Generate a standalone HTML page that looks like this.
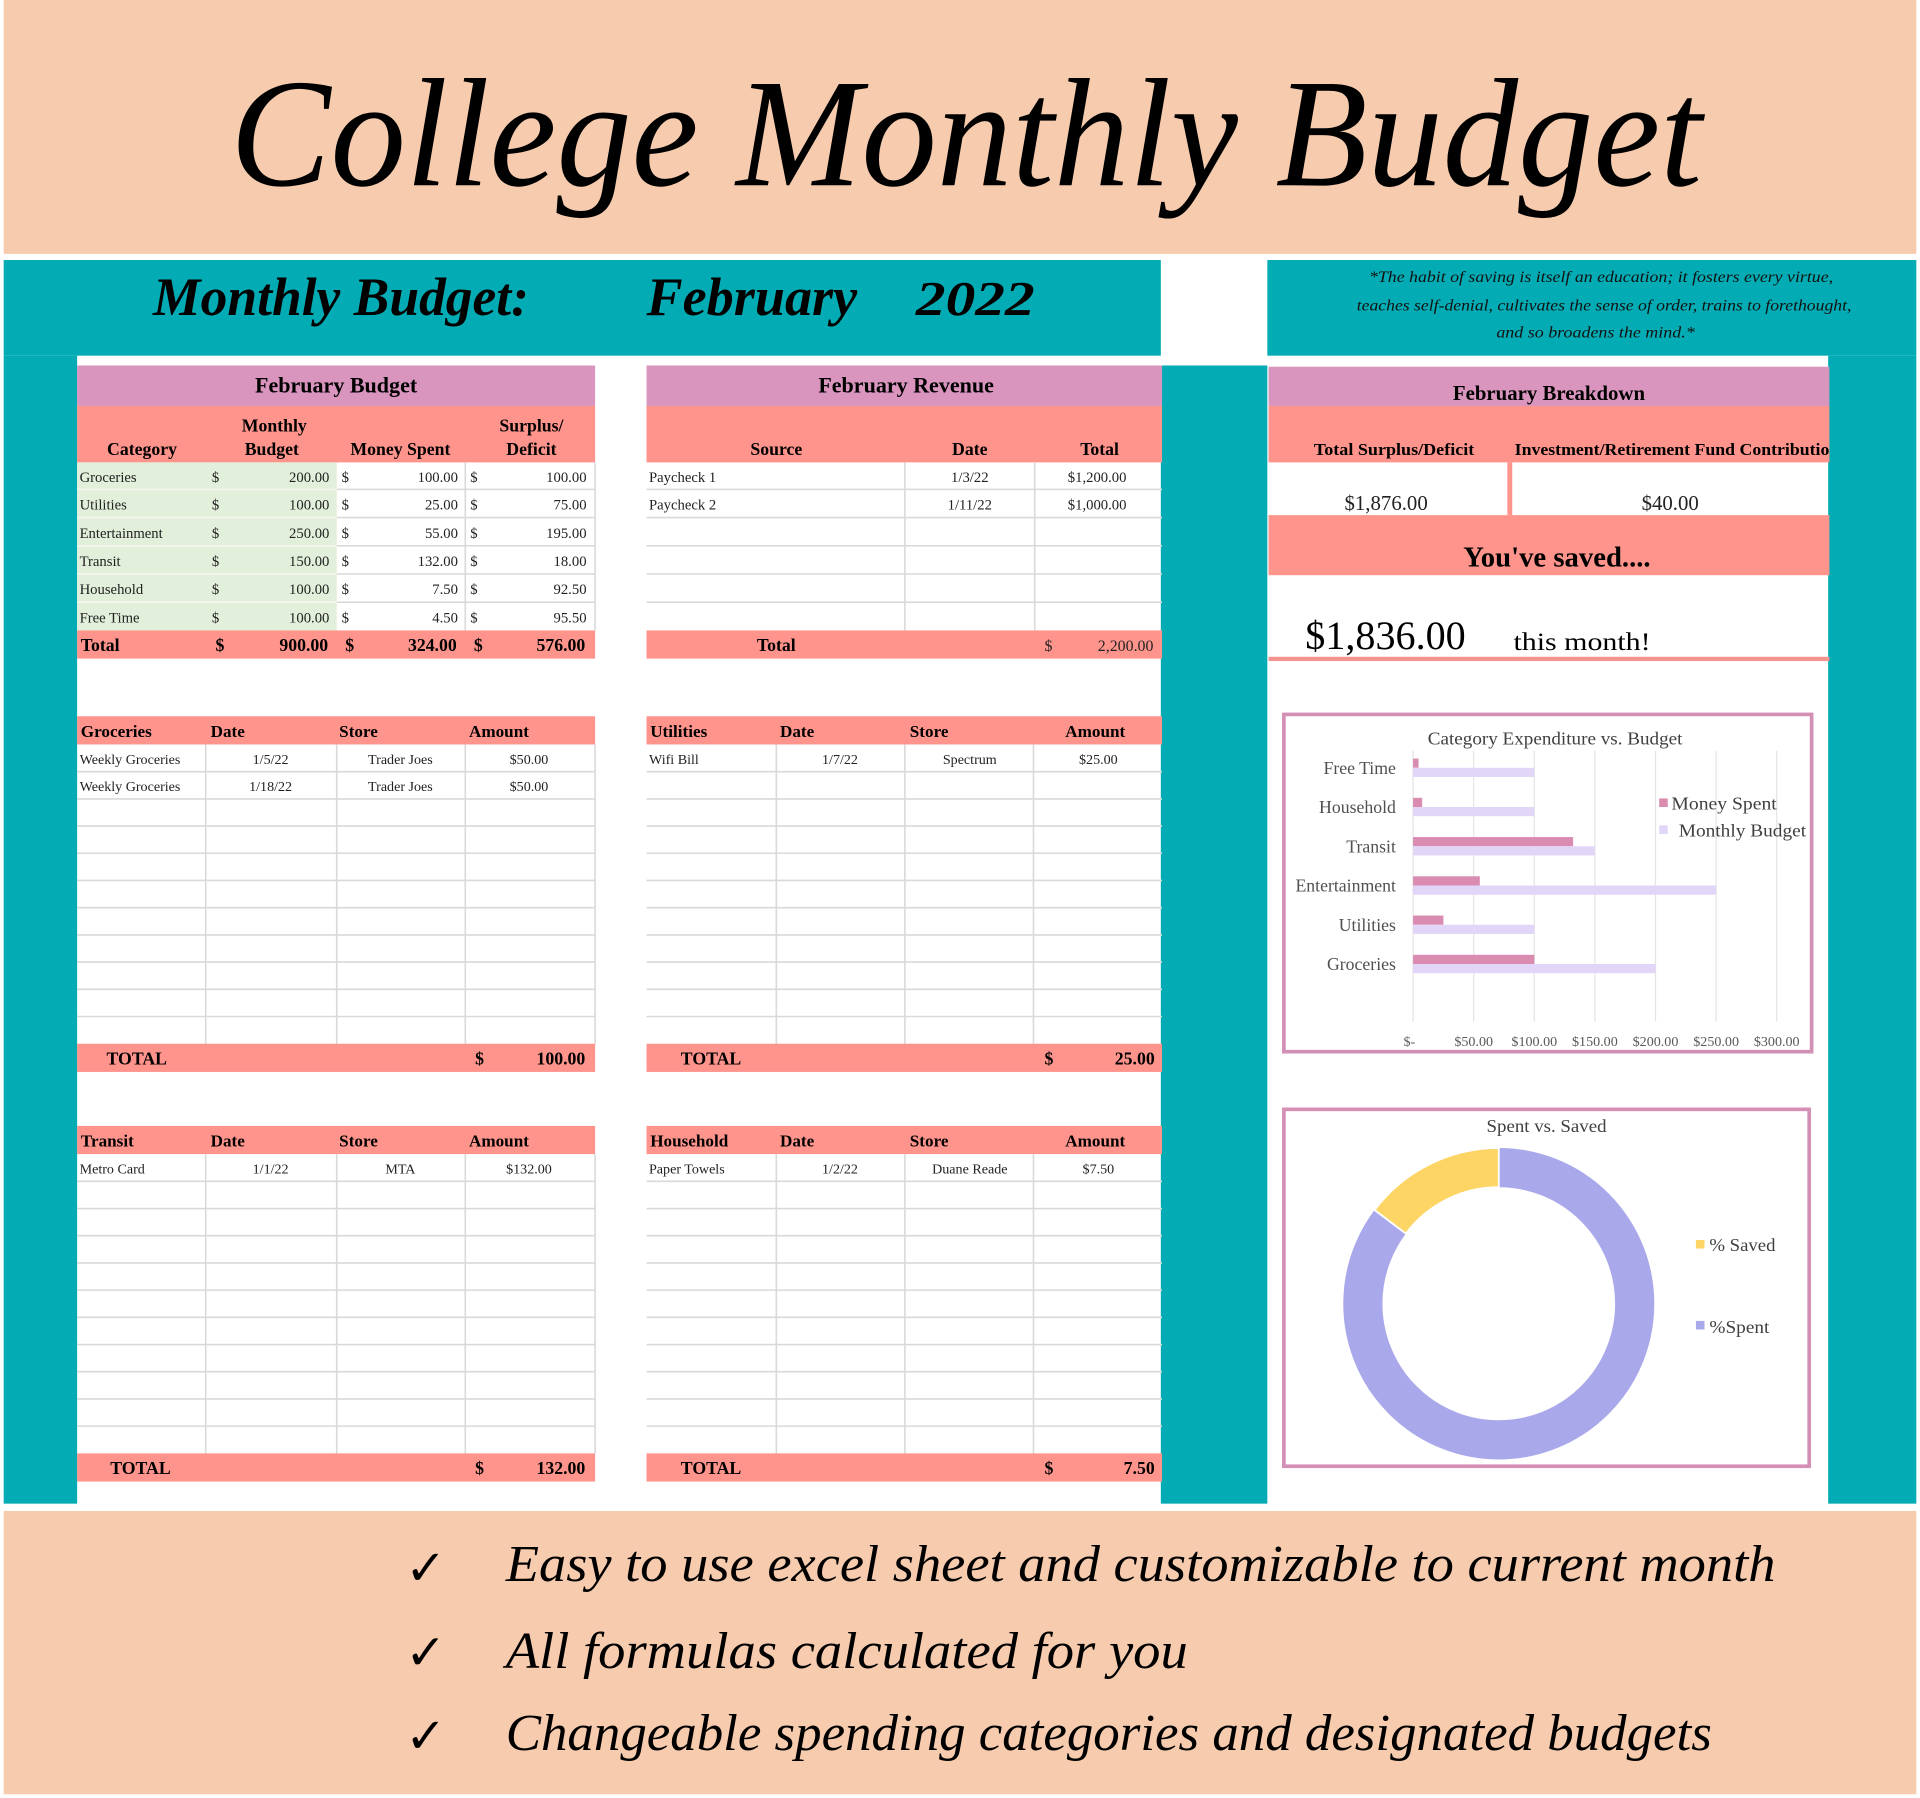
<!DOCTYPE html>
<html><head><meta charset="utf-8">
<style>html,body{margin:0;padding:0;background:#fff}svg{display:block}</style>
</head>
<body>
<svg xmlns="http://www.w3.org/2000/svg" width="1920" height="1798" viewBox="0 0 1568 1466" preserveAspectRatio="none" font-family="'Liberation Serif', 'DejaVu Serif', serif">
<rect width="1568" height="1466" fill="#fff"/>

<!-- top peach band -->
<rect x="3" y="0" width="1562" height="207" fill="#F6CBAE"/>
<text x="188" y="151" font-size="126" font-style="italic" textLength="1202" lengthAdjust="spacingAndGlyphs" fill="#000">College Monthly Budget</text>

<!-- teal structure -->
<rect x="3" y="212" width="945" height="78" fill="#03ACB4"/>
<rect x="1035" y="212" width="530" height="78" fill="#03ACB4"/>
<rect x="3" y="290" width="60" height="936" fill="#03ACB4"/>
<rect x="948" y="298" width="87" height="928" fill="#03ACB4"/>
<rect x="1493" y="290" width="72" height="936" fill="#03ACB4"/>

<text x="125" y="257" font-size="44" font-style="italic" font-weight="bold" textLength="307" lengthAdjust="spacingAndGlyphs">Monthly Budget:</text>
<text x="528" y="257" font-size="44" font-style="italic" font-weight="bold" textLength="172" lengthAdjust="spacingAndGlyphs">February</text>
<text x="748" y="257" font-size="40" font-style="italic" font-weight="bold" textLength="97" lengthAdjust="spacingAndGlyphs">2022</text>

<g font-size="13" font-style="italic" fill="#111">
<text x="1118" y="230" textLength="379" lengthAdjust="spacingAndGlyphs">*The habit of saving is itself an education; it fosters every virtue,</text>
<text x="1108" y="253" textLength="404" lengthAdjust="spacingAndGlyphs">teaches self-denial, cultivates the sense of order, trains to forethought,</text>
<text x="1222" y="275" textLength="162" lengthAdjust="spacingAndGlyphs">and so broadens the mind.*</text>
</g>

<!-- ========== February Budget ========== -->
<rect x="63" y="298" width="423" height="33" fill="#D995BE"/>
<rect x="63" y="331" width="423" height="46" fill="#FF948C"/>
<rect x="63" y="377" width="212" height="137" fill="#E2EFDA"/>
<g stroke="#D9D9D9" stroke-width="1.3">
<line x1="275" y1="399" x2="486" y2="399"/><line x1="275" y1="422" x2="486" y2="422"/>
<line x1="275" y1="445" x2="486" y2="445"/><line x1="275" y1="468" x2="486" y2="468"/>
<line x1="275" y1="491" x2="486" y2="491"/>
<line x1="380" y1="377" x2="380" y2="514"/><line x1="486" y1="377" x2="486" y2="514"/>
</g>
<g stroke="#F4F8F1" stroke-width="1.3">
<line x1="63" y1="399" x2="275" y2="399"/><line x1="63" y1="422" x2="275" y2="422"/>
<line x1="63" y1="445" x2="275" y2="445"/><line x1="63" y1="468" x2="275" y2="468"/>
<line x1="63" y1="491" x2="275" y2="491"/>
</g>
<rect x="63" y="514" width="423" height="23" fill="#FF948C"/>
<text x="274.5" y="320" font-size="18" font-weight="bold" text-anchor="middle">February Budget</text>
<g font-size="14.5" font-weight="bold" text-anchor="middle">
<text x="116" y="371">Category</text>
<text x="224" y="352">Monthly</text>
<text x="222" y="371">Budget</text>
<text x="327" y="371">Money Spent</text>
<text x="434" y="352">Surplus/</text>
<text x="434" y="371">Deficit</text>
</g>
<g font-size="12" fill="#222">
<text x="65" y="393">Groceries</text>
<text x="65" y="415.5">Utilities</text>
<text x="65" y="438.5">Entertainment</text>
<text x="65" y="461.5">Transit</text>
<text x="65" y="484.5">Household</text>
<text x="65" y="507.5">Free Time</text>
<text x="173" y="393">$</text><text x="173" y="415.5">$</text><text x="173" y="438.5">$</text><text x="173" y="461.5">$</text><text x="173" y="484.5">$</text><text x="173" y="507.5">$</text>
<text x="279" y="393">$</text><text x="279" y="415.5">$</text><text x="279" y="438.5">$</text><text x="279" y="461.5">$</text><text x="279" y="484.5">$</text><text x="279" y="507.5">$</text>
<text x="384" y="393">$</text><text x="384" y="415.5">$</text><text x="384" y="438.5">$</text><text x="384" y="461.5">$</text><text x="384" y="484.5">$</text><text x="384" y="507.5">$</text>
</g>
<g font-size="12" fill="#222" text-anchor="end">
<text x="269" y="393">200.00</text><text x="269" y="415.5">100.00</text><text x="269" y="438.5">250.00</text><text x="269" y="461.5">150.00</text><text x="269" y="484.5">100.00</text><text x="269" y="507.5">100.00</text>
<text x="374" y="393">100.00</text><text x="374" y="415.5">25.00</text><text x="374" y="438.5">55.00</text><text x="374" y="461.5">132.00</text><text x="374" y="484.5">7.50</text><text x="374" y="507.5">4.50</text>
<text x="479" y="393">100.00</text><text x="479" y="415.5">75.00</text><text x="479" y="438.5">195.00</text><text x="479" y="461.5">18.00</text><text x="479" y="484.5">92.50</text><text x="479" y="507.5">95.50</text>
</g>
<g font-size="14.5" font-weight="bold">
<text x="66" y="531">Total</text>
<text x="176" y="531">$</text><text x="268" y="531" text-anchor="end">900.00</text>
<text x="282" y="531">$</text><text x="373" y="531" text-anchor="end">324.00</text>
<text x="387" y="531">$</text><text x="478" y="531" text-anchor="end">576.00</text>
</g>

<!-- ========== February Revenue ========== -->
<rect x="528" y="298" width="421" height="33" fill="#D995BE"/>
<rect x="528" y="331" width="421" height="46" fill="#FF948C"/>
<g stroke="#D9D9D9" stroke-width="1.3">
<line x1="528" y1="399" x2="949" y2="399"/><line x1="528" y1="422" x2="949" y2="422"/>
<line x1="528" y1="445" x2="949" y2="445"/><line x1="528" y1="468" x2="949" y2="468"/>
<line x1="528" y1="491" x2="949" y2="491"/>
<line x1="739" y1="377" x2="739" y2="514"/><line x1="845" y1="377" x2="845" y2="514"/>
</g>
<rect x="528" y="514" width="421" height="23" fill="#FF948C"/>
<text x="740" y="320" font-size="18" font-weight="bold" text-anchor="middle">February Revenue</text>
<g font-size="14.5" font-weight="bold" text-anchor="middle">
<text x="634" y="371">Source</text>
<text x="792" y="371">Date</text>
<text x="898" y="371">Total</text>
</g>
<g font-size="12" fill="#222">
<text x="530" y="393">Paycheck 1</text>
<text x="530" y="415.5">Paycheck 2</text>
<text x="792" y="393" text-anchor="middle">1/3/22</text>
<text x="792" y="415.5" text-anchor="middle">1/11/22</text>
<text x="896" y="393" text-anchor="middle">$1,200.00</text>
<text x="896" y="415.5" text-anchor="middle">$1,000.00</text>
</g>
<text x="634" y="531" font-size="14.5" font-weight="bold" text-anchor="middle">Total</text>
<text x="853" y="531" font-size="13" fill="#222">$</text>
<text x="942" y="531" font-size="13" fill="#222" text-anchor="end">2,200.00</text>

<!-- ========== Small tables ========== -->
<!-- Groceries -->
<g>
<rect x="63" y="584" width="423" height="23" fill="#FF948C"/>
<g stroke="#D9D9D9" stroke-width="1.3">
<line x1="63" y1="629.2" x2="486" y2="629.2"/><line x1="63" y1="651.4" x2="486" y2="651.4"/>
<line x1="63" y1="673.5" x2="486" y2="673.5"/><line x1="63" y1="695.7" x2="486" y2="695.7"/>
<line x1="63" y1="717.9" x2="486" y2="717.9"/><line x1="63" y1="740.1" x2="486" y2="740.1"/>
<line x1="63" y1="762.3" x2="486" y2="762.3"/><line x1="63" y1="784.4" x2="486" y2="784.4"/>
<line x1="63" y1="806.6" x2="486" y2="806.6"/><line x1="63" y1="828.8" x2="486" y2="828.8"/>
<line x1="168" y1="607" x2="168" y2="851"/><line x1="275" y1="607" x2="275" y2="851"/>
<line x1="380" y1="607" x2="380" y2="851"/><line x1="486" y1="607" x2="486" y2="851"/>
</g>
<rect x="63" y="851" width="423" height="23" fill="#FF948C"/>
<g font-size="14" font-weight="bold">
<text x="66" y="601">Groceries</text><text x="172" y="601">Date</text><text x="277" y="601">Store</text><text x="383" y="601">Amount</text>
</g>
<g font-size="11.5" fill="#222">
<text x="65" y="623">Weekly Groceries</text><text x="65" y="645">Weekly Groceries</text>
<g text-anchor="middle">
<text x="221" y="623">1/5/22</text><text x="221" y="645">1/18/22</text>
<text x="327" y="623">Trader Joes</text><text x="327" y="645">Trader Joes</text>
<text x="432" y="623">$50.00</text><text x="432" y="645">$50.00</text>
</g></g>
<g font-size="14.5" font-weight="bold">
<text x="87" y="868">TOTAL</text><text x="388" y="868">$</text><text x="478" y="868" text-anchor="end">100.00</text>
</g>
</g>

<!-- Utilities -->
<g>
<rect x="528" y="584" width="421" height="23" fill="#FF948C"/>
<g stroke="#D9D9D9" stroke-width="1.3">
<line x1="528" y1="629.2" x2="949" y2="629.2"/><line x1="528" y1="651.4" x2="949" y2="651.4"/>
<line x1="528" y1="673.5" x2="949" y2="673.5"/><line x1="528" y1="695.7" x2="949" y2="695.7"/>
<line x1="528" y1="717.9" x2="949" y2="717.9"/><line x1="528" y1="740.1" x2="949" y2="740.1"/>
<line x1="528" y1="762.3" x2="949" y2="762.3"/><line x1="528" y1="784.4" x2="949" y2="784.4"/>
<line x1="528" y1="806.6" x2="949" y2="806.6"/><line x1="528" y1="828.8" x2="949" y2="828.8"/>
<line x1="634" y1="607" x2="634" y2="851"/><line x1="739" y1="607" x2="739" y2="851"/>
<line x1="844" y1="607" x2="844" y2="851"/>
</g>
<rect x="528" y="851" width="421" height="23" fill="#FF948C"/>
<g font-size="14" font-weight="bold">
<text x="531" y="601">Utilities</text><text x="637" y="601">Date</text><text x="743" y="601">Store</text><text x="870" y="601">Amount</text>
</g>
<g font-size="11.5" fill="#222">
<text x="530" y="623">Wifi Bill</text>
<g text-anchor="middle">
<text x="686" y="623">1/7/22</text><text x="792" y="623">Spectrum</text><text x="897" y="623">$25.00</text>
</g></g>
<g font-size="14.5" font-weight="bold">
<text x="556" y="868">TOTAL</text><text x="853" y="868">$</text><text x="943" y="868" text-anchor="end">25.00</text>
</g>
</g>

<!-- Transit -->
<g transform="translate(0,334)">
<rect x="63" y="584" width="423" height="23" fill="#FF948C"/>
<g stroke="#D9D9D9" stroke-width="1.3">
<line x1="63" y1="629.2" x2="486" y2="629.2"/><line x1="63" y1="651.4" x2="486" y2="651.4"/>
<line x1="63" y1="673.5" x2="486" y2="673.5"/><line x1="63" y1="695.7" x2="486" y2="695.7"/>
<line x1="63" y1="717.9" x2="486" y2="717.9"/><line x1="63" y1="740.1" x2="486" y2="740.1"/>
<line x1="63" y1="762.3" x2="486" y2="762.3"/><line x1="63" y1="784.4" x2="486" y2="784.4"/>
<line x1="63" y1="806.6" x2="486" y2="806.6"/><line x1="63" y1="828.8" x2="486" y2="828.8"/>
<line x1="168" y1="607" x2="168" y2="851"/><line x1="275" y1="607" x2="275" y2="851"/>
<line x1="380" y1="607" x2="380" y2="851"/><line x1="486" y1="607" x2="486" y2="851"/>
</g>
<rect x="63" y="851" width="423" height="23" fill="#FF948C"/>
<g font-size="14" font-weight="bold">
<text x="66" y="601">Transit</text><text x="172" y="601">Date</text><text x="277" y="601">Store</text><text x="383" y="601">Amount</text>
</g>
<g font-size="11.5" fill="#222">
<text x="65" y="623">Metro Card</text>
<g text-anchor="middle">
<text x="221" y="623">1/1/22</text><text x="327" y="623">MTA</text><text x="432" y="623">$132.00</text>
</g></g>
<g font-size="14.5" font-weight="bold">
<text x="90" y="868">TOTAL</text><text x="388" y="868">$</text><text x="478" y="868" text-anchor="end">132.00</text>
</g>
</g>

<!-- Household -->
<g transform="translate(0,334)">
<rect x="528" y="584" width="421" height="23" fill="#FF948C"/>
<g stroke="#D9D9D9" stroke-width="1.3">
<line x1="528" y1="629.2" x2="949" y2="629.2"/><line x1="528" y1="651.4" x2="949" y2="651.4"/>
<line x1="528" y1="673.5" x2="949" y2="673.5"/><line x1="528" y1="695.7" x2="949" y2="695.7"/>
<line x1="528" y1="717.9" x2="949" y2="717.9"/><line x1="528" y1="740.1" x2="949" y2="740.1"/>
<line x1="528" y1="762.3" x2="949" y2="762.3"/><line x1="528" y1="784.4" x2="949" y2="784.4"/>
<line x1="528" y1="806.6" x2="949" y2="806.6"/><line x1="528" y1="828.8" x2="949" y2="828.8"/>
<line x1="634" y1="607" x2="634" y2="851"/><line x1="739" y1="607" x2="739" y2="851"/>
<line x1="844" y1="607" x2="844" y2="851"/>
</g>
<rect x="528" y="851" width="421" height="23" fill="#FF948C"/>
<g font-size="14" font-weight="bold">
<text x="531" y="601">Household</text><text x="637" y="601">Date</text><text x="743" y="601">Store</text><text x="870" y="601">Amount</text>
</g>
<g font-size="11.5" fill="#222">
<text x="530" y="623">Paper Towels</text>
<g text-anchor="middle">
<text x="686" y="623">1/2/22</text><text x="792" y="623">Duane Reade</text><text x="897" y="623">$7.50</text>
</g></g>
<g font-size="14.5" font-weight="bold">
<text x="556" y="868">TOTAL</text><text x="853" y="868">$</text><text x="943" y="868" text-anchor="end">7.50</text>
</g>
</g>

<!-- ========== February Breakdown ========== -->
<rect x="1036" y="299" width="458" height="32" fill="#D995BE"/>
<rect x="1036" y="331" width="458" height="46" fill="#FF948C"/>
<rect x="1231" y="377" width="4" height="43" fill="#FF948C"/>
<rect x="1036" y="420" width="458" height="49" fill="#FF948C"/>
<rect x="1036" y="535.5" width="458" height="3.5" fill="#F4938F"/>
<text x="1265" y="326" font-size="17" font-weight="bold" text-anchor="middle">February Breakdown</text>
<text x="1073" y="371" font-size="14" font-weight="bold" textLength="131" lengthAdjust="spacingAndGlyphs">Total Surplus/Deficit</text>
<text x="1237" y="371" font-size="14" font-weight="bold" textLength="257" lengthAdjust="spacingAndGlyphs">Investment/Retirement Fund Contributio</text>
<text x="1132" y="416" font-size="17" text-anchor="middle" fill="#222">$1,876.00</text>
<text x="1364" y="416" font-size="17" text-anchor="middle" fill="#222">$40.00</text>
<text x="1195" y="462" font-size="23" font-weight="600" textLength="153" lengthAdjust="spacingAndGlyphs">You've saved....</text>
<text x="1066" y="529" font-size="33" textLength="131" lengthAdjust="spacingAndGlyphs">$1,836.00</text>
<text x="1236" y="530" font-size="21" textLength="112" lengthAdjust="spacingAndGlyphs">this month!</text>

<!-- ========== Bar chart ========== -->
<rect x="1048.5" y="582.5" width="431" height="275" fill="#fff" stroke="#D48FB5" stroke-width="3"/>
<g stroke="#E4E4E4" stroke-width="1">
<line x1="1154" y1="612" x2="1154" y2="833"/><line x1="1203.5" y1="612" x2="1203.5" y2="833"/>
<line x1="1253" y1="612" x2="1253" y2="833"/><line x1="1302.5" y1="612" x2="1302.5" y2="833"/>
<line x1="1352" y1="612" x2="1352" y2="833"/><line x1="1401.5" y1="612" x2="1401.5" y2="833"/>
<line x1="1451" y1="612" x2="1451" y2="833"/>
</g>
<g fill="#D98BB0">
<rect x="1154" y="618.5" width="4.5" height="7.5"/>
<rect x="1154" y="650.5" width="7.4" height="7.5"/>
<rect x="1154" y="682.5" width="130.7" height="7.5"/>
<rect x="1154" y="714.5" width="54.5" height="7.5"/>
<rect x="1154" y="746.5" width="24.8" height="7.5"/>
<rect x="1154" y="778.5" width="99" height="7.5"/>
</g>
<g fill="#E2D6F8">
<rect x="1154" y="626" width="99" height="7.5"/>
<rect x="1154" y="658" width="99" height="7.5"/>
<rect x="1154" y="690" width="148.5" height="7.5"/>
<rect x="1154" y="722" width="247.5" height="7.5"/>
<rect x="1154" y="754" width="99" height="7.5"/>
<rect x="1154" y="786" width="198" height="7.5"/>
</g>
<text x="1166" y="607" font-size="14.5" fill="#404040" textLength="208" lengthAdjust="spacingAndGlyphs">Category Expenditure vs. Budget</text>
<g font-size="14.5" fill="#505050" text-anchor="end">
<text x="1140" y="631">Free Time</text>
<text x="1140" y="663">Household</text>
<text x="1140" y="695">Transit</text>
<text x="1140" y="727">Entertainment</text>
<text x="1140" y="759">Utilities</text>
<text x="1140" y="791">Groceries</text>
</g>
<g font-size="11.5" fill="#595959" text-anchor="middle">
<text x="1151" y="853">$-</text>
<text x="1203.5" y="853">$50.00</text>
<text x="1253" y="853">$100.00</text>
<text x="1302.5" y="853">$150.00</text>
<text x="1352" y="853">$200.00</text>
<text x="1401.5" y="853">$250.00</text>
<text x="1451" y="853">$300.00</text>
</g>
<rect x="1355" y="651" width="7" height="7" fill="#D98BB0"/>
<rect x="1355" y="673" width="7" height="7" fill="#E2D6F8"/>
<text x="1365" y="660" font-size="14.5" fill="#404040" textLength="86" lengthAdjust="spacingAndGlyphs">Money Spent</text>
<text x="1371" y="682" font-size="14.5" fill="#404040" textLength="104" lengthAdjust="spacingAndGlyphs">Monthly Budget</text>

<!-- ========== Donut chart ========== -->
<rect x="1048.5" y="904.5" width="429" height="291" fill="#fff" stroke="#D48FB5" stroke-width="3"/>
<text x="1263" y="923" font-size="14.5" fill="#404040" text-anchor="middle" textLength="98" lengthAdjust="spacingAndGlyphs">Spent vs. Saved</text>
<circle cx="1224" cy="1063" r="111" fill="none" stroke="#A9A8EB" stroke-width="32"/>
<path d="M 1122.6 986.6 A 127 127 0 0 1 1224 936 L 1224 968 A 95 95 0 0 0 1148.1 1005.8 Z" fill="#FCD565" stroke="#fff" stroke-width="1.5"/>
<rect x="1385" y="1011" width="7" height="7" fill="#FCD565"/>
<rect x="1385" y="1077" width="7" height="7" fill="#A9A8EB"/>
<text x="1396" y="1020" font-size="14.5" fill="#404040" textLength="54" lengthAdjust="spacingAndGlyphs">% Saved</text>
<text x="1396" y="1087" font-size="14.5" fill="#404040" textLength="49" lengthAdjust="spacingAndGlyphs">%Spent</text>

<!-- ========== bottom peach band ========== -->
<rect x="3" y="1232" width="1562" height="231" fill="#F6CBAE"/>
<g font-family="'DejaVu Sans', 'Liberation Sans', sans-serif" font-size="40" font-weight="bold" fill="#000">
<text x="331" y="1292">✓</text>
<text x="331" y="1361">✓</text>
<text x="331" y="1429">✓</text>
</g>
<g font-size="42" font-style="italic" fill="#000">
<text x="413" y="1289" textLength="1037" lengthAdjust="spacingAndGlyphs">Easy to use excel sheet and customizable to current month</text>
<text x="413" y="1360" textLength="557" lengthAdjust="spacingAndGlyphs">All formulas calculated for you</text>
<text x="413" y="1427" textLength="985" lengthAdjust="spacingAndGlyphs">Changeable spending categories and designated budgets</text>
</g>
</svg>
</body></html>
